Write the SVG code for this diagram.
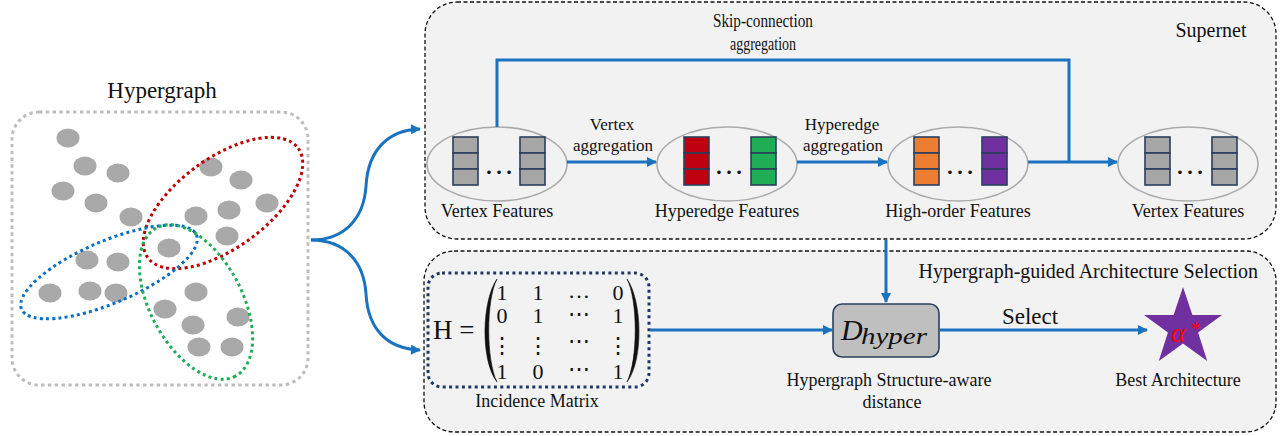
<svg xmlns="http://www.w3.org/2000/svg" width="1280" height="436" viewBox="0 0 1280 436" font-family="'Liberation Serif','Times New Roman',serif">
<style>
text{font-family:"Liberation Serif","Times New Roman",serif;fill:#111}
.lbl{font-size:18px;text-anchor:middle}
.panel{fill:#f2f2f2;stroke:#111;stroke-width:1.3;stroke-dasharray:4 2.5}
.feat{fill:#f2f2f2;stroke:#ababab;stroke-width:1.6}
.cell{stroke:#2b3f5e;stroke-width:1.6}
.g{fill:#a6a6a6}.r{fill:#c00010}.gr{fill:#1fae55}.o{fill:#ed7d31}.p{fill:#7030a0}
.v{fill:#a9a9a9}
.conn{fill:none;stroke:#1b73bf;stroke-width:3}
.dot{font-size:30px;text-anchor:middle}
.m{font-size:22px;text-anchor:middle;font-family:"Liberation Serif","DejaVu Serif",serif}
</style>
<defs>
<marker id="ah" viewBox="0 0 10 10" refX="9" refY="5" markerWidth="11" markerHeight="10" markerUnits="userSpaceOnUse" orient="auto">
<path d="M0,0 L10,5 L0,10 z" fill="#1b73bf"/>
</marker>
<g id="col"><rect class="cell" x="0" y="0" width="25" height="16"/><rect class="cell" x="0" y="16" width="25" height="16"/><rect class="cell" x="0" y="32" width="25" height="16"/></g>
</defs>
<rect width="1280" height="436" fill="#fff"/>

<g id="hypergraph">
<text x="162" y="98" style="font-size:23px;text-anchor:middle">Hypergraph</text>
<rect x="12" y="112" width="296" height="273" rx="27" fill="none" stroke="#bdbdbd" stroke-width="3" stroke-dasharray="3.4 3.4"/>
<g class="v">
<ellipse cx="68" cy="138" rx="11.5" ry="9.5"/><ellipse cx="85" cy="166" rx="11.5" ry="9.5"/><ellipse cx="118" cy="173" rx="11.5" ry="9.5"/>
<ellipse cx="63" cy="191" rx="11.5" ry="9.5"/><ellipse cx="96" cy="203" rx="11.5" ry="9.5"/><ellipse cx="131" cy="217" rx="11.5" ry="9.5"/>
<ellipse cx="211" cy="167" rx="11.5" ry="9.5"/><ellipse cx="241" cy="180" rx="11.5" ry="9.5"/><ellipse cx="267" cy="203" rx="11.5" ry="9.5"/>
<ellipse cx="196" cy="216" rx="11.5" ry="9.5"/><ellipse cx="229" cy="210" rx="11.5" ry="9.5"/><ellipse cx="227" cy="236" rx="11.5" ry="9.5"/>
<ellipse cx="169" cy="248" rx="11.5" ry="9.5"/>
<ellipse cx="87" cy="260" rx="11.5" ry="9.5"/><ellipse cx="118" cy="262" rx="11.5" ry="9.5"/>
<ellipse cx="50" cy="293" rx="11.5" ry="9.5"/><ellipse cx="90" cy="291" rx="11.5" ry="9.5"/><ellipse cx="116" cy="293" rx="11.5" ry="9.5"/>
<ellipse cx="196" cy="292" rx="11.5" ry="9.5"/><ellipse cx="165" cy="309" rx="11.5" ry="9.5"/><ellipse cx="238" cy="317" rx="11.5" ry="9.5"/>
<ellipse cx="193" cy="325" rx="11.5" ry="9.5"/><ellipse cx="199" cy="347" rx="11.5" ry="9.5"/><ellipse cx="232" cy="347" rx="11.5" ry="9.5"/>
</g>
<ellipse cx="223" cy="203" rx="93" ry="45" transform="rotate(-36 223 203)" fill="none" stroke="#c00000" stroke-width="3" stroke-dasharray="3 3.2"/>
<ellipse cx="109" cy="272" rx="95" ry="31" transform="rotate(-23 109 272)" fill="none" stroke="#0a6fc2" stroke-width="3" stroke-dasharray="3 3.2"/>
<ellipse cx="196" cy="302" rx="84" ry="46" transform="rotate(62 196 302)" fill="none" stroke="#1fae55" stroke-width="3" stroke-dasharray="3 3.2"/>
</g>

<g id="supernet">
<rect class="panel" x="425" y="2" width="851" height="237" rx="32"/>
<text x="1211" y="37" style="font-size:20px;text-anchor:middle">Supernet</text>
</g>

<g id="vertex-features-in">
<ellipse class="feat" cx="497" cy="164" rx="70" ry="37"/>
<use href="#col" x="453" y="137" class="g"/>
<use href="#col" x="520" y="137" class="g"/>
<text class="dot" x="499" y="174">…</text>
<text class="lbl" x="497" y="217">Vertex Features</text>
</g>

<g id="hyperedge-features">
<ellipse class="feat" cx="727" cy="164" rx="70" ry="37"/>
<use href="#col" x="684" y="137" class="r"/>
<use href="#col" x="751" y="137" class="gr"/>
<text class="dot" x="729" y="174">…</text>
<text class="lbl" x="727" y="217">Hyperedge Features</text>
</g>

<g id="high-order-features">
<ellipse class="feat" cx="958" cy="164" rx="70" ry="37"/>
<use href="#col" x="914" y="137" class="o"/>
<use href="#col" x="982" y="137" class="p"/>
<text class="dot" x="960" y="174">…</text>
<text class="lbl" x="958" y="217">High-order Features</text>
</g>

<g id="vertex-features-out">
<ellipse class="feat" cx="1188" cy="164" rx="70" ry="37"/>
<use href="#col" x="1145" y="137" class="g"/>
<use href="#col" x="1212" y="137" class="g"/>
<text class="dot" x="1190" y="174">…</text>
<text class="lbl" x="1188" y="217">Vertex Features</text>
</g>

<g id="selection">
<rect class="panel" x="424" y="251" width="852" height="181" rx="30"/>
<text x="1258" y="278" style="font-size:20px;text-anchor:end">Hypergraph-guided Architecture Selection</text>
</g>

<g id="incidence-matrix">
<rect x="428" y="273" width="221" height="114" rx="14" fill="none" stroke="#203864" stroke-width="3" stroke-dasharray="3 3.4"/>
<text x="433" y="339" style="font-size:27px">H =</text>
<path d="M497,279 C482,300 480,360 497,382 C486,360 486,300 497,279 Z" fill="#111" stroke="#111" stroke-width="0.6"/>
<path d="M627,279 C642,300 644,360 627,382 C638,360 638,300 627,279 Z" fill="#111" stroke="#111" stroke-width="0.6"/>
<text class="m" x="502" y="300">1</text><text class="m" x="538" y="300">1</text><text class="m" x="579" y="298">…</text><text class="m" x="618" y="300">0</text>
<text class="m" x="502" y="323">0</text><text class="m" x="538" y="323">1</text><text class="m" x="579" y="321">⋯</text><text class="m" x="618" y="323">1</text>
<text class="m" x="502" y="353">⋮</text><text class="m" x="538" y="353">⋮</text><text class="m" x="579" y="348">⋯</text><text class="m" x="618" y="353">⋮</text>
<text class="m" x="502" y="379">1</text><text class="m" x="538" y="379">0</text><text class="m" x="579" y="376">⋯</text><text class="m" x="618" y="379">1</text>
<text class="lbl" x="537" y="407">Incidence Matrix</text>
</g>

<g id="d-hyper">
<rect x="833" y="304" width="106" height="53" rx="9" fill="#bfbfbf" stroke="#2b3f5e" stroke-width="1.6"/>
<text x="841" y="340" style="font-size:30px;font-style:italic">D</text>
<text x="861" y="344" style="font-size:24px;font-style:italic" textLength="66" lengthAdjust="spacingAndGlyphs">hyper</text>
<text class="lbl" x="889" y="386">Hypergraph Structure-aware</text>
<text class="lbl" x="892" y="408">distance</text>
</g>

<g id="best-architecture">
<polygon points="1183,287 1192.4,315 1222,315 1198.1,332.5 1207.2,361 1183,343.5 1158.8,361 1167.9,332.5 1144,315 1173.6,315" fill="#7030a0"/>
<text x="1171" y="342" style="font-size:28px;font-style:italic;fill:#ff0000">α</text>
<text x="1191" y="336" style="font-size:20px;fill:#ff0000">*</text>
<text class="lbl" x="1178" y="386">Best Architecture</text>
</g>

<g id="connectors">
<path class="conn" d="M311,240 C345,240 364,218 366,186 C368,150 388,130 420,129" marker-end="url(#ah)"/>
<path class="conn" d="M311,240 C345,240 364,262 366,294 C368,330 388,349 420,350" marker-end="url(#ah)"/>
<path class="conn" d="M567,162 H656" marker-end="url(#ah)"/>
<path class="conn" d="M797,162 H887" marker-end="url(#ah)"/>
<path class="conn" d="M1028,162 H1117" marker-end="url(#ah)"/>
<path class="conn" d="M497,127 V60 H1069 V162"/>
<path class="conn" d="M886,240 V302" marker-end="url(#ah)"/>
<path class="conn" d="M650,330 H832" marker-end="url(#ah)"/>
<path class="conn" d="M940,330 H1147" marker-end="url(#ah)"/>
<text class="lbl" x="612" y="130" style="font-size:17px">Vertex</text>
<text class="lbl" x="613" y="151" style="font-size:17px">aggregation</text>
<text class="lbl" x="842" y="130" style="font-size:17px">Hyperedge</text>
<text class="lbl" x="843" y="151" style="font-size:17px">aggregation</text>
<text class="lbl" x="763" y="27" style="font-size:18px" textLength="100" lengthAdjust="spacingAndGlyphs">Skip-connection</text>
<text class="lbl" x="763" y="50" style="font-size:18px" textLength="66" lengthAdjust="spacingAndGlyphs">aggregation</text>
<text class="lbl" x="1030" y="324" style="font-size:23px">Select</text>
</g>
</svg>
